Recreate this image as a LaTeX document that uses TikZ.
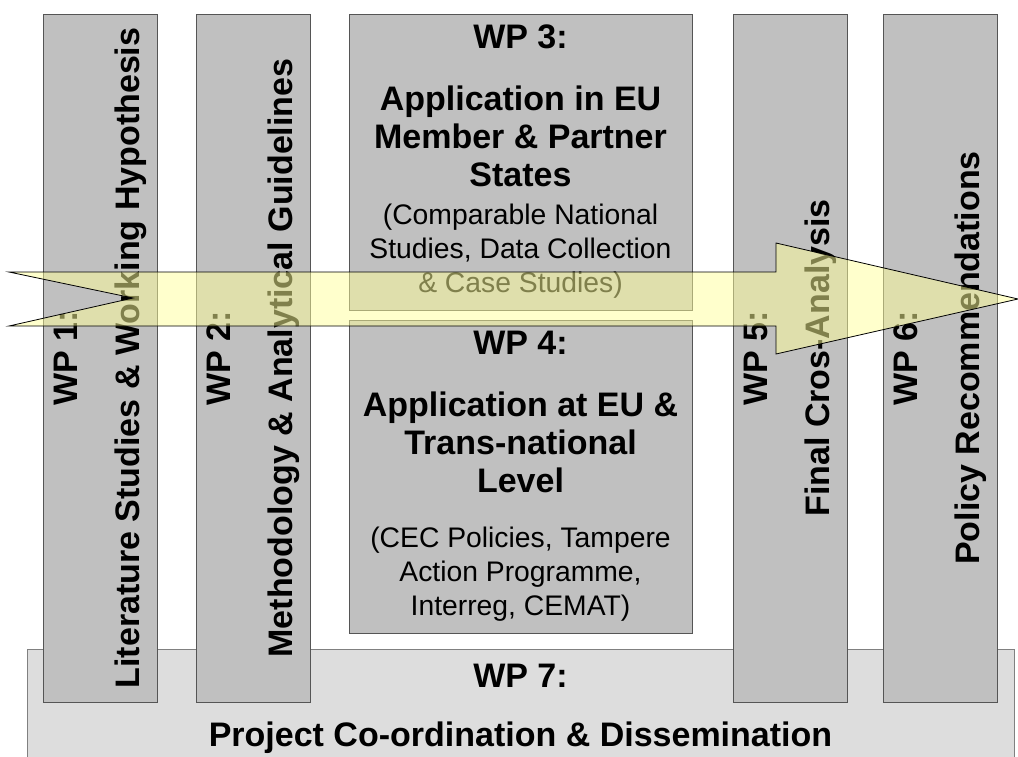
\documentclass[tikz,border=0pt]{standalone}
\usepackage{fontspec}
\setmainfont{Liberation Sans}
\usepackage{tikz}
\usetikzlibrary{positioning}
\newcommand{\wptitle}{\fontsize{34}{38}\selectfont\bfseries}
\newcommand{\wpdesc}{\fontsize{28.3}{34}\selectfont\mdseries}
\definecolor{colgray}{HTML}{C0C0C0}
\definecolor{basegray}{HTML}{DDDDDD}
\definecolor{edgegray}{HTML}{555555}
\definecolor{arrowyellow}{HTML}{FFFF99}

\begin{document}
\begin{tikzpicture}[x=1pt,y=-1pt,font=\wptitle,
    wpcol/.style={draw=edgegray,line width=1pt,fill=colgray,rotate=90,minimum width=688,minimum height=114,text width=680,align=flush center,inner sep=0pt},
    wpbox/.style={draw=edgegray,line width=1pt,fill=colgray,minimum width=343,text width=335,align=flush center,inner sep=0pt},
    wpbase/.style={draw=gray,line width=1pt,fill=basegray,minimum width=987,minimum height=120,text width=980,align=flush center,inner sep=0pt}]
    \clip (0,0) rectangle (1018,756);
    \node[wpbase] (wp7) at (520.5,709) {WP 7:\\[21pt]Project Co-ordination \& Dissemination};
    \node[wpcol] (wp1) at (100,358) {WP 1:\\[24pt]Literature Studies \& Working Hypothesis};
    \node[wpcol] (wp2) at (253.5,358) {WP 2:\\[24pt]Methodology \& Analytical Guidelines};
    \node[wpcol] (wp5) at (790,358) {WP 5:\\[24pt]Final Cros-Analysis};
    \node[wpcol] (wp6) at (940.5,358) {WP 6:\\[24pt]Policy Recommendations};
    \node[wpbox,minimum height=296] (wp3) at (520.5,162) {WP 3:\\[24pt]Application in EU\\Member \& Partner\\States\par\vspace{4pt}
      {\wpdesc (Comparable National\\Studies, Data Collection\\\& Case Studies)\par}};
    \node[wpbox,minimum height=313] (wp4) at (520.5,476.5) {WP 4:\\[24pt]Application at EU \&\\Trans-national\\Level\par\vspace{21pt}
      {\wpdesc (CEC Policies, Tampere\\Action Programme,\\Interreg, CEMAT)\par}};
    \draw[line width=.8pt,fill=arrowyellow,fill opacity=.5] (9,272) -- (776,272) -- (776,243) -- (1018,299) -- (776,354) -- (776,326) -- (9,326) -- (133,298) -- cycle;
\end{tikzpicture}
\end{document}
